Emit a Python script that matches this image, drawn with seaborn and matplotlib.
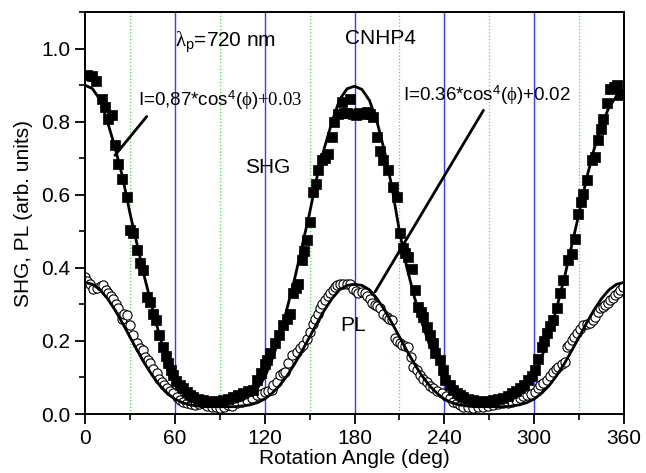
"""
SHG / PL polarisation dependence, CNHP4
"""

import matplotlib.pyplot as plt
import pandas as pd
import seaborn as sns
from matplotlib.ticker import MultipleLocator

# data
shgAngle = [1.5, 4.5, 7.5, 11.1, 13.4, 15.6, 17.8, 20.0, 22.3, 24.5, 27.8, 30.0, 32.3, 34.5,
            36.7, 38.9, 41.2, 43.4, 45.6, 47.4, 49.5, 52.3, 54.0, 55.6, 57.2, 58.9, 61.0, 63.4,
            65.6, 67.9, 70.0, 72.3, 75.6, 79.0, 82.3, 85.7, 89.0, 92.4, 95.7, 99.0, 102.3,
            105.7, 109.0, 112.4, 114.7, 117.5, 120.2, 121.5, 123.6, 126.9, 129.5, 132.5, 134.8,
            136.9, 139.1, 141.0, 142.5, 144.7, 146.5, 148.1, 150.3, 152.5, 154.0, 155.8, 158.1,
            160.3, 162.5, 164.8, 166.5, 169.2, 171.4, 173.0, 175.0, 177.0, 179.0, 181.0, 183.3,
            185.5, 188.0, 190.4, 192.5, 194.8, 197.0, 199.3, 202.6, 205.9, 208.2, 210.4, 212.6,
            214.0, 216.0, 218.2, 220.5, 222.6, 224.5, 226.0, 228.2, 230.5, 232.6, 233.8, 237.1,
            238.8, 240.4, 243.8, 246.0, 248.2, 250.5, 252.7, 256.0, 259.3, 262.7, 266.0, 269.3,
            272.7, 276.0, 279.4, 282.2, 285.0, 287.8, 290.5, 293.3, 296.1, 298.4, 300.6, 302.8,
            305.0, 306.7, 308.4, 310.6, 312.8, 315.0, 317.3, 319.5, 322.8, 325.1, 327.3, 329.5,
            331.2, 332.8, 335.1, 338.4, 340.6, 342.9, 344.5, 346.2, 348.5, 350.7, 353.0, 355.1,
            357.3, 359.0]
shgValue = [0.928, 0.924, 0.911, 0.862, 0.840, 0.808, 0.817, 0.735, 0.685, 0.644, 0.594, 0.503,
            0.494, 0.448, 0.412, 0.393, 0.320, 0.307, 0.275, 0.257, 0.215, 0.184, 0.160, 0.139,
            0.120, 0.107, 0.090, 0.079, 0.070, 0.061, 0.053, 0.047, 0.042, 0.038, 0.036, 0.034,
            0.035, 0.038, 0.042, 0.047, 0.052, 0.057, 0.062, 0.066, 0.093, 0.111, 0.138, 0.148,
            0.166, 0.193, 0.215, 0.243, 0.260, 0.275, 0.330, 0.345, 0.357, 0.421, 0.445, 0.475,
            0.525, 0.607, 0.630, 0.667, 0.694, 0.700, 0.712, 0.758, 0.800, 0.820, 0.853, 0.825,
            0.823, 0.862, 0.820, 0.817, 0.823, 0.820, 0.827, 0.820, 0.812, 0.758, 0.720, 0.694,
            0.667, 0.621, 0.594, 0.494, 0.453, 0.440, 0.430, 0.398, 0.340, 0.293, 0.280, 0.266,
            0.239, 0.215, 0.193, 0.166, 0.148, 0.120, 0.093, 0.079, 0.066, 0.057, 0.052, 0.047,
            0.042, 0.038, 0.036, 0.034, 0.036, 0.038, 0.040, 0.043, 0.050, 0.057, 0.063, 0.070,
            0.080, 0.093, 0.105, 0.120, 0.150, 0.184, 0.200, 0.221, 0.240, 0.257, 0.290, 0.330,
            0.366, 0.421, 0.439, 0.480, 0.548, 0.580, 0.603, 0.639, 0.694, 0.703, 0.749, 0.780,
            0.808, 0.850, 0.890, 0.895, 0.899, 0.872, 0.875]

plAngle = [0.0, 1.5, 3.3, 5.5, 8.0, 10.5, 12.2, 14.0, 15.6, 17.2, 18.9, 20.5, 22.2, 24.5, 26.2,
           27.9, 30.0, 32.3, 34.5, 36.7, 38.4, 40.1, 41.8, 43.4, 45.6, 47.9, 49.5, 51.2, 52.9,
           54.6, 56.8, 59.0, 61.2, 63.5, 65.7, 67.9, 70.7, 73.5, 76.2, 79.0, 81.8, 84.6, 87.4,
           90.2, 93.0, 95.7, 98.5, 101.3, 104.6, 108.0, 111.3, 114.7, 117.5, 120.2, 122.5,
           124.7, 125.8, 128.0, 130.2, 132.0, 133.6, 135.8, 138.1, 141.4, 143.6, 145.8, 148.0,
           150.3, 152.0, 153.6, 155.3, 157.0, 158.6, 160.3, 162.0, 163.6, 165.3, 167.0, 168.6,
           170.3, 172.5, 174.8, 177.0, 179.2, 180.8, 182.5, 184.7, 187.0, 188.6, 190.4, 192.0,
           193.7, 195.3, 197.0, 199.2, 201.5, 203.2, 204.8, 206.9, 208.5, 210.2, 211.5, 213.7,
           215.9, 217.5, 219.3, 221.5, 223.7, 226.0, 228.2, 230.4, 232.6, 235.4, 238.2, 241.0,
           243.8, 246.0, 248.2, 250.5, 252.7, 256.0, 259.3, 262.6, 266.0, 269.3, 272.7, 276.0,
           279.4, 282.2, 285.0, 287.8, 290.5, 292.8, 295.0, 297.8, 300.6, 302.3, 303.9, 306.2,
           308.4, 310.6, 312.8, 314.5, 316.1, 318.3, 320.6, 321.7, 323.4, 325.1, 326.8, 328.4,
           330.6, 332.8, 335.0, 337.3, 339.0, 340.6, 342.3, 344.0, 345.7, 347.3, 349.0, 350.7,
           352.4, 354.0, 355.7, 357.3, 359.1]
plValue = [0.375, 0.365, 0.357, 0.343, 0.345, 0.350, 0.352, 0.338, 0.330, 0.322, 0.316, 0.300,
           0.289, 0.261, 0.275, 0.270, 0.243, 0.216, 0.195, 0.180, 0.175, 0.157, 0.148, 0.139,
           0.122, 0.111, 0.095, 0.088, 0.080, 0.070, 0.063, 0.057, 0.047, 0.038, 0.033, 0.029,
           0.027, 0.025, 0.028, 0.029, 0.023, 0.020, 0.018, 0.016, 0.020, 0.025, 0.022, 0.029,
           0.032, 0.038, 0.045, 0.052, 0.056, 0.061, 0.064, 0.066, 0.079, 0.088, 0.107, 0.112,
           0.116, 0.140, 0.161, 0.170, 0.180, 0.189, 0.205, 0.225, 0.245, 0.261, 0.275, 0.289,
           0.300, 0.311, 0.322, 0.330, 0.340, 0.348, 0.352, 0.357, 0.357, 0.355, 0.357, 0.343,
           0.337, 0.330, 0.335, 0.330, 0.322, 0.316, 0.305, 0.298, 0.295, 0.289, 0.275, 0.266,
           0.260, 0.257, 0.207, 0.200, 0.193, 0.189, 0.187, 0.184, 0.155, 0.129, 0.120, 0.107,
           0.097, 0.088, 0.078, 0.070, 0.063, 0.057, 0.050, 0.043, 0.034, 0.030, 0.025, 0.020,
           0.018, 0.016, 0.018, 0.020, 0.022, 0.025, 0.027, 0.029, 0.031, 0.034, 0.038, 0.043,
           0.048, 0.052, 0.056, 0.061, 0.070, 0.079, 0.085, 0.093, 0.105, 0.116, 0.122, 0.129,
           0.136, 0.143, 0.184, 0.190, 0.202, 0.210, 0.221, 0.232, 0.243, 0.245, 0.248, 0.257,
           0.266, 0.278, 0.289, 0.293, 0.298, 0.305, 0.311, 0.318, 0.325, 0.332, 0.339, 0.348]

fitAngle = list(range(0, 361, 5))
shgFit = [0.900, 0.890, 0.860, 0.800, 0.730, 0.650, 0.550, 0.460, 0.370, 0.290, 0.210, 0.150,
          0.100, 0.070, 0.050, 0.038, 0.032, 0.030, 0.029, 0.030, 0.032, 0.038, 0.050, 0.070,
          0.100, 0.150, 0.210, 0.290, 0.370, 0.460, 0.550, 0.650, 0.730, 0.800, 0.860, 0.890,
          0.897, 0.888, 0.858, 0.800, 0.720, 0.620, 0.500, 0.400, 0.320, 0.250, 0.190, 0.150,
          0.115, 0.080, 0.055, 0.042, 0.035, 0.031, 0.030, 0.031, 0.034, 0.040, 0.052, 0.072,
          0.105, 0.155, 0.215, 0.290, 0.370, 0.460, 0.550, 0.645, 0.725, 0.790, 0.840, 0.870,
          0.880]
plFit = [0.360, 0.355, 0.340, 0.316, 0.285, 0.249, 0.211, 0.173, 0.137, 0.105, 0.078, 0.057,
         0.041, 0.031, 0.025, 0.022, 0.020, 0.020, 0.020, 0.020, 0.020, 0.022, 0.025, 0.031,
         0.041, 0.057, 0.078, 0.105, 0.137, 0.173, 0.211, 0.249, 0.285, 0.316, 0.340, 0.352,
         0.355, 0.352, 0.340, 0.316, 0.285, 0.249, 0.211, 0.173, 0.137, 0.105, 0.078, 0.057,
         0.041, 0.031, 0.025, 0.022, 0.020, 0.020, 0.020, 0.020, 0.020, 0.022, 0.025, 0.031,
         0.041, 0.057, 0.078, 0.105, 0.137, 0.173, 0.211, 0.249, 0.285, 0.316, 0.340, 0.355,
         0.360]

blueLines = [60, 120, 180, 240, 300]
greenLines = [30, 90, 150, 210, 270, 330]

shgData = pd.DataFrame({"angle": shgAngle, "value": shgValue})
plData = pd.DataFrame({"angle": plAngle, "value": plValue})
fitData = pd.DataFrame({"angle": fitAngle, "shg": shgFit, "pl": plFit})

# style
sns.set_style("ticks")
plt.rcParams["font.family"] = ["Liberation Sans", "DejaVu Sans"]
plt.rcParams["mathtext.fontset"] = "custom"
plt.rcParams["mathtext.rm"] = "Liberation Serif"
plt.rcParams["mathtext.it"] = "Liberation Serif:italic"
plt.rcParams["mathtext.sf"] = "Liberation Sans"
for key in ("text.color", "axes.labelcolor", "xtick.color", "ytick.color", "axes.edgecolor"):
    plt.rcParams[key] = "black"

fig = plt.figure(figsize=(6.46, 4.73), dpi=100)
ax = fig.add_axes([0.1316, 0.1247, 0.8344, 0.8499])

for x in blueLines:
    ax.axvline(x, color="#3a3aff", lw=1.0, zorder=0)
for x in greenLines:
    ax.axvline(x, color="#55dd55", lw=0.9, ls=":", zorder=0)

sns.scatterplot(data=plData, x="angle", y="value", marker="o", s=44,
                facecolor="white", edgecolor="black", linewidth=0.8, ax=ax, zorder=2)
sns.scatterplot(data=shgData, x="angle", y="value", marker="s", s=44,
                color="black", edgecolor="black", linewidth=0.5, ax=ax, zorder=2)
sns.lineplot(data=fitData, x="angle", y="shg", color="black", lw=2.0, ax=ax, zorder=3)
sns.lineplot(data=fitData, x="angle", y="pl", color="black", lw=2.0, ax=ax, zorder=3)

# annotation pointers
ax.plot([20.0, 41.2], [0.708, 0.814], color="black", lw=2.0, zorder=3)
ax.plot([193.7, 266.1], [0.334, 0.831], color="black", lw=2.0, zorder=3)

ax.text(60, 1.016, r"$\mathrm{\lambda}_{\mathsf{p}}$=720 nm", fontsize=15, va="center")
ax.text(173.7, 1.027, "CNHP4", fontsize=15, va="center")
ax.text(106.9, 0.675, "SHG", fontsize=15, va="center")
ax.text(170.3, 0.243, "PL", fontsize=15, va="center")
ax.text(35.4, 0.858, r"I=0,87*cos$^{\mathsf{4}}$($\mathrm{\phi}$)$\mathrm{+0.03}$",
        fontsize=13.5, va="center")
ax.text(212.6, 0.872, r"I=0.36*cos$^{\mathsf{4}}$($\mathrm{\phi}$)+0.02",
        fontsize=13.5, va="center")

ax.set_xlim(0, 360)
ax.set_ylim(0, 1.1)
ax.xaxis.set_major_locator(MultipleLocator(60))
ax.xaxis.set_minor_locator(MultipleLocator(30))
ax.yaxis.set_major_locator(MultipleLocator(0.2))
ax.yaxis.set_minor_locator(MultipleLocator(0.1))
ax.yaxis.set_major_formatter(plt.FormatStrFormatter("%.1f"))
ax.tick_params(which="major", direction="out", length=7, width=1.3, labelsize=15, color="black")
ax.tick_params(which="minor", direction="out", length=4, width=1.2, color="black")
for spine in ax.spines.values():
    spine.set_visible(True)
    spine.set_linewidth(1.4)
    spine.set_color("black")

ax.set_xlabel("Rotation Angle (deg)", fontsize=15, labelpad=1)
ax.set_ylabel("SHG, PL (arb. units)", fontsize=15, labelpad=6)

fig.savefig("out.png", dpi=100)
